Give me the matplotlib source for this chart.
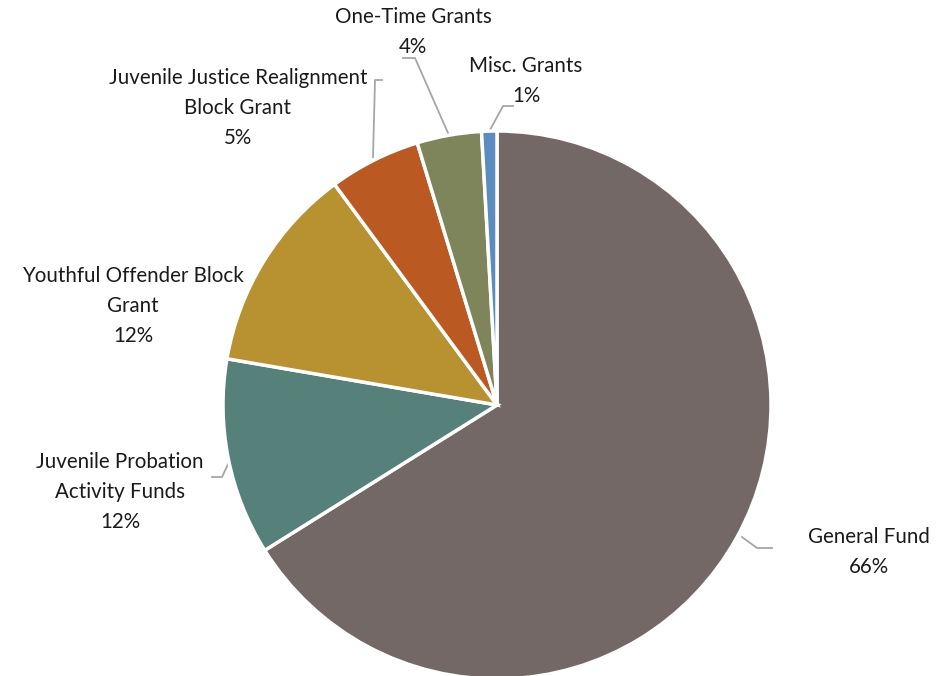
import matplotlib
matplotlib.use("Agg")
import matplotlib.pyplot as plt

categories = ["General Fund", "Juvenile Probation\nActivity Funds", "Youthful Offender Block\nGrant",
              "Juvenile Justice Realignment\nBlock Grant", "One-Time Grants", "Misc. Grants"]
values = [66.1, 11.6, 12.2, 5.4, 3.8, 0.9]
pct_labels = ["66%", "12%", "12%", "5%", "4%", "1%"]
colors = ["#736866", "#56807A", "#B89130", "#BA5A22", "#7E855A", "#5A8DBD"]

W, H = 942, 676
fig = plt.figure(figsize=(W / 100, H / 100), dpi=100)
ax = fig.add_axes([0, 0, 1, 1])
ax.set_xlim(0, W)
ax.set_ylim(H, 0)
ax.axis("off")

cx, cy, r = 497, 405, 274
ax2 = fig.add_axes([0, 0, 1, 1])
ax2.pie(values, colors=colors, startangle=90, counterclock=False, center=(cx, H - cy), radius=r,
        wedgeprops=dict(edgecolor="white", linewidth=2.5), frame=True)
ax2.set_xlim(0, W)
ax2.set_ylim(0, H)
ax2.axis("off")

font = dict(family=["Lato", "DejaVu Sans"], fontsize=14.8, color="#1a1a1a", ha="center", va="center",
            linespacing=1.62)

# label positions (pixel coords, y down)
label_pos = [(869, 552), (120, 492), (133, 306), (238, 108), (413, 32), (526, 81)]
leaders = [
    [(742, 537), (757, 548), (772, 548)],
    [(230, 460), (222, 477), (212, 477)],
    None,
    [(373, 157), (375, 80), (382, 80)],
    [(448, 133), (415, 58), (403, 58)],
    [(490, 130), (503, 106), (513, 106)],
]
for cat, pct, (x, y), ld in zip(categories, pct_labels, label_pos, leaders):
    ax.text(x, y, cat + "\n" + pct, **font)
    if ld:
        xs, ys = zip(*ld)
        ax.plot(xs, ys, color="#A6A6A6", lw=1.3)

fig.savefig("out.png", dpi=100)
